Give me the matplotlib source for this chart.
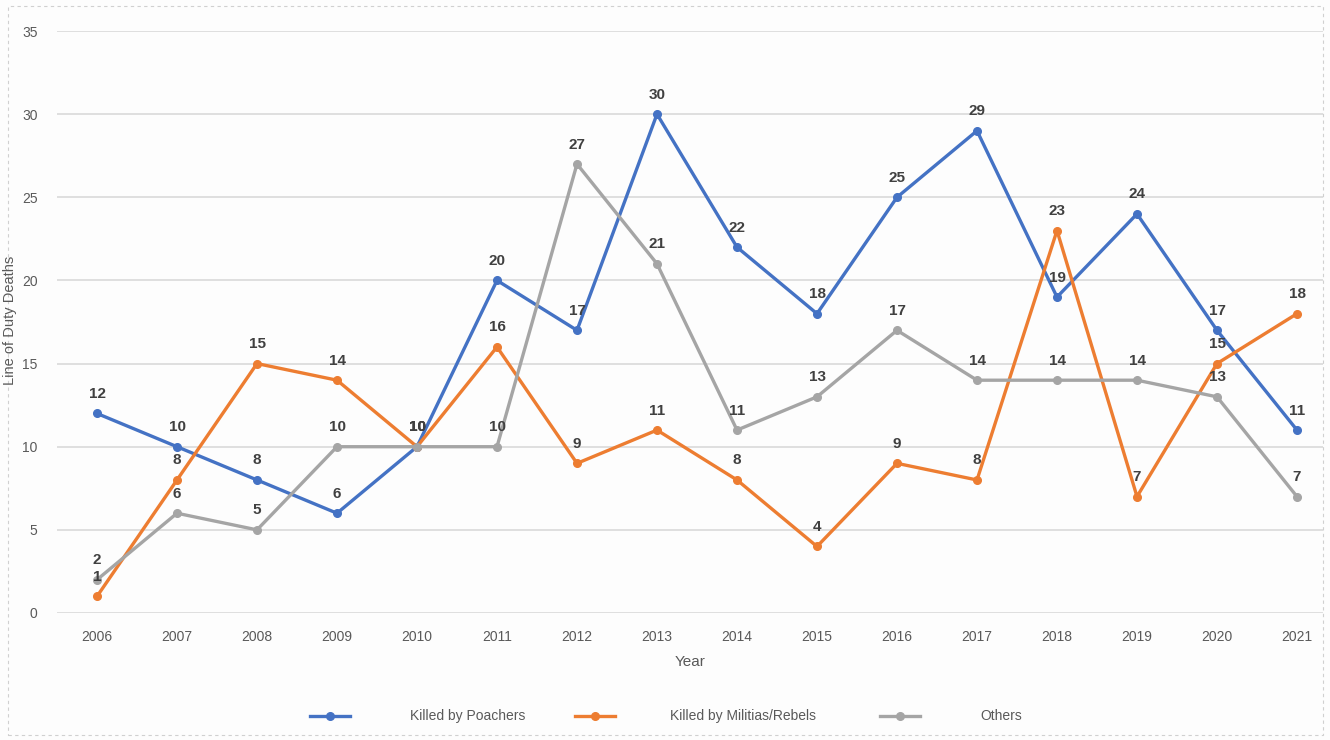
import numpy as np
import matplotlib.pyplot as plt
from matplotlib.lines import Line2D
from matplotlib.patches import Rectangle

plt.rcParams['font.family'] = ['Liberation Sans', 'DejaVu Sans']

years = ["2006", "2007", "2008", "2009", "2010", "2011", "2012", "2013",
         "2014", "2015", "2016", "2017", "2018", "2019", "2020", "2021"]
poachers = [12, 10, 8, 6, 10, 20, 17, 30, 22, 18, 25, 29, 19, 24, 17, 11]
militias = [1, 8, 15, 14, 10, 16, 9, 11, 8, 4, 9, 8, 23, 7, 15, 18]
others = [2, 6, 5, 10, 10, 10, 27, 21, 11, 13, 17, 14, 14, 14, 13, 7]

series = [
    ("Killed by Poachers", poachers, "#4472C4"),
    ("Killed by Militias/Rebels", militias, "#ED7D31"),
    ("Others", others, "#A5A5A5"),
]

W, H = 1330, 740
fig = plt.figure(figsize=(W / 100, H / 100), dpi=100)
fig.patch.set_facecolor("#FDFDFD")

# plot area in pixel terms
left, right, top, bottom = 57, 1323, 31, 613
ax = fig.add_axes([left / W, 1 - bottom / H, (right - left) / W, (bottom - top) / H])
ax.set_facecolor("#FDFDFD")

x = np.arange(len(years))
for name, vals, col in series:
    ax.plot(x, vals, color=col, lw=2.4, marker="o", ms=5.5, label=name,
            solid_joinstyle="round", zorder=3)
    for xi, v in zip(x, vals):
        ax.annotate(str(v), (xi, v), xytext=(0, 9), textcoords="offset points",
                    ha="center", va="bottom", fontsize=11, fontweight="bold",
                    color="#404040", zorder=4)

ax.set_xlim(-0.5, (right - 97) / 80)
ax.set_ylim(0, 35)
ax.set_yticks(range(0, 36, 5))
ax.set_xticks(x)
ax.set_xticklabels(years)
ax.grid(axis="y", color="#D9D9D9", lw=1.2)
ax.set_axisbelow(True)
for s in ax.spines.values():
    s.set_visible(False)
ax.tick_params(length=0, labelsize=10, colors="#595959")
ax.tick_params(axis="y", pad=14)
ax.tick_params(axis="x", pad=12)
ax.set_xlabel("Year", fontsize=11, color="#595959", labelpad=8)

# y label squeezed against the left frame edge
fig.text(10 / W, 1 - 320 / H, "Line of Duty Deaths", rotation=90, ha="center",
         va="center", fontsize=10.5, color="#595959")

# legend row below the plot
ly = 1 - 716 / H
entries = [(310, 410), (575, 670), (880, 980)]
for (hx, tx), (name, _, col) in zip(entries, series):
    fig.add_artist(Line2D([hx / W, (hx + 40) / W], [ly, ly], color=col, lw=2.4,
                          transform=fig.transFigure))
    fig.add_artist(Line2D([(hx + 20) / W], [ly], color=col, marker="o", ms=5.5,
                          transform=fig.transFigure))
    fig.text(tx / W, ly, name, ha="left", va="center", fontsize=10, color="#595959")

fig.add_artist(Rectangle((8 / W, 1 - 735 / H), (1323 - 8) / W, (735 - 6) / H,
                         transform=fig.transFigure, fill=False, ec="#D0D0D0",
                         lw=0.8, ls=(0, (3, 3))))

fig.savefig("out.png", dpi=100, facecolor=fig.get_facecolor())
